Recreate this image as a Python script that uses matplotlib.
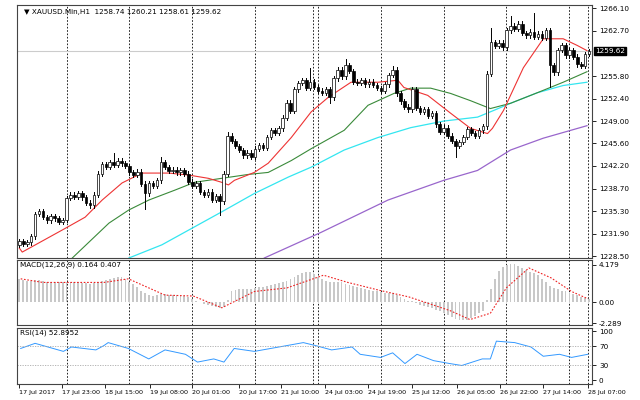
import numpy as np
import matplotlib.pyplot as plt
from matplotlib.patches import Rectangle

# ---------- data ----------
closes = [1230.8, 1230.3, 1230.6, 1231.5, 1234.9, 1235.3, 1234.4, 1233.9, 1234.6, 1234.2, 1233.7, 1234.0,
          1237.3, 1237.8, 1237.5, 1238.0, 1237.4, 1236.6, 1236.2, 1237.8,
          1241.0, 1242.5, 1242.0, 1242.8, 1242.3, 1243.0, 1242.6, 1242.2,
          1241.2, 1240.8, 1241.3, 1239.5, 1238.0, 1239.6, 1239.2, 1240.0,
          1242.8, 1242.0, 1241.4, 1241.6, 1241.2, 1241.5, 1241.0,
          1239.8, 1239.2, 1239.6, 1238.2, 1237.8, 1238.3, 1237.0, 1237.6, 1236.8,
          1241.0, 1246.8, 1246.0, 1245.2, 1244.6, 1243.8, 1244.2, 1243.6,
          1244.8, 1245.3, 1244.9, 1246.6, 1247.6, 1247.2, 1247.9,
          1249.5, 1251.8, 1250.5, 1253.8, 1254.8, 1255.2, 1254.0, 1255.0, 1254.2,
          1253.6, 1253.3, 1253.8, 1252.6,
          1255.5, 1256.8, 1255.8, 1257.5, 1256.6, 1255.0,
          1254.8, 1255.2, 1254.6, 1255.0, 1254.5,
          1254.0, 1253.6, 1254.6, 1256.0, 1256.8,
          1253.2, 1252.0, 1251.2, 1250.8, 1253.8, 1251.0,
          1250.4, 1250.8, 1249.8, 1250.2, 1248.5, 1247.4, 1248.0,
          1246.8, 1246.0, 1245.2, 1245.8,
          1246.6, 1247.8, 1247.2, 1246.8, 1247.6,
          1248.2, 1256.2, 1261.0, 1260.4, 1260.9,
          1260.2, 1262.8, 1263.5, 1263.0, 1263.8,
          1262.4, 1262.0, 1262.6, 1261.8, 1262.3, 1261.6,
          1262.8, 1257.5, 1256.4, 1259.8, 1260.5,
          1259.0, 1259.8, 1258.8, 1257.6, 1257.4, 1259.2, 1259.62]
first_open = 1230.2
wick = 0.35
spike_highs = {24: 1244.1, 36: 1243.6, 53: 1247.3, 74: 1257.1, 83: 1258.5, 95: 1257.4,
               120: 1263.2, 125: 1265.0, 131: 1265.4}
spike_lows = {32: 1235.7, 51: 1234.7, 79: 1251.8, 111: 1243.5, 135: 1254.1}
bar_hours = 1.5  # each drawn candle spans 1.5 chart hours

ma_red_h = [0, 1.1, 17.5, 25.1, 31.6, 39.2, 46.8, 57, 64.6, 72.2, 77.2, 79.8, 82.1, 89.7, 95, 103.8,
            111.4, 117.9, 126.6, 136.9, 144.5, 146.8, 155.9, 164.6, 172.2, 178.7, 180.6, 184.8,
            192.4, 200, 207.6, 212.9, 216.7]
ma_red = [1229.7, 1229.1, 1232.7, 1234.4, 1237.0, 1239.6, 1241.1, 1241.1, 1240.8, 1240.3, 1239.7, 1239.3,
          1240.0, 1241.2, 1242.6, 1246.5, 1250.4, 1252.6, 1254.9, 1254.9, 1255.2, 1254.1, 1252.9, 1250.2,
          1247.9, 1247.1, 1247.9, 1250.6, 1257.1, 1261.5, 1261.5, 1260.5, 1259.7]
ma_green_h = [20.2, 34.2, 41.8, 49.4, 59.3, 66.9, 77.2, 87.5, 95, 103.8, 111.4, 124, 133.1, 143, 149.4,
              157, 164.6, 172.2, 179.8, 187.5, 197.7, 207.6, 216.7]
ma_green = [1228.2, 1233.5, 1235.5, 1237.0, 1238.5, 1239.7, 1240.3, 1240.9, 1241.2, 1243.0, 1244.8,
            1247.6, 1251.4, 1253.2, 1254.0, 1254.0, 1253.2, 1252.1, 1250.9, 1251.7, 1253.3, 1254.9, 1256.5]
ma_cyan_h = [41.8, 54.4, 65.8, 77.2, 89.7, 102.7, 111.4, 124, 136.9, 149.4, 162, 174.9, 181, 187.5,
             197.7, 207.6, 216.7]
ma_cyan = [1228.2, 1230.2, 1232.7, 1235.2, 1238.0, 1240.5, 1242.0, 1244.6, 1246.5, 1248.0, 1249.0,
           1249.6, 1250.6, 1251.7, 1253.3, 1254.4, 1254.9]
ma_purple_h = [93.5, 115.2, 140.7, 162, 174.9, 187.5, 200, 216.7]
ma_purple = [1228.2, 1232.1, 1237.0, 1240.0, 1241.5, 1244.6, 1246.4, 1248.3]

macd_hist = [2.6, 2.5, 2.4, 2.4, 2.5, 2.5, 2.4, 2.3, 2.3, 2.3, 2.2, 2.2,
             2.3, 2.3, 2.3, 2.2, 2.1, 2.1, 2.0, 2.1, 2.3, 2.4, 2.5,
             2.6, 2.7, 2.8, 2.8, 2.6,
             2.3, 2.0, 1.7, 1.3, 1.0,
             0.8, 0.7, 0.8, 0.9, 0.9, 0.8, 0.8, 0.8, 0.7, 0.7, 0.6, 0.4,
             0.2, 0.0, -0.2, -0.3, -0.4, -0.5, -0.6, -0.5, 0.3,
             1.2, 1.4, 1.5, 1.5, 1.5, 1.5, 1.6, 1.7, 1.7, 1.8, 1.9, 2.0, 2.1, 2.2, 2.4,
             2.6, 2.8, 3.0, 3.2, 3.3, 3.3, 3.1,
             2.8, 2.6, 2.4, 2.2, 2.2, 2.2, 2.2, 2.0,
             1.9, 1.8, 1.7, 1.6, 1.5, 1.4, 1.3, 1.2, 1.1,
             1.0, 1.0, 1.0, 0.8, 0.6, 0.4, 0.2,
             0.1, -0.1, -0.3, -0.4, -0.5, -0.6, -0.8, -1.0, -1.2,
             -1.4, -1.6, -1.8, -2.0, -2.0, -1.9,
             -1.7, -1.5, -1.2, -0.9, 0.3, 1.5,
             2.6, 3.5, 3.9, 4.1, 4.2, 4.2, 4.0,
             3.8, 3.6, 3.4, 3.2, 3.0, 2.6, 2.2, 1.8,
             1.6, 1.5, 1.3, 1.2, 1.0, 0.9, 0.8, 0.6, 0.5, 0.4]
signal_h = [0.5, 9, 32.3, 41.6, 55.6, 66.4, 77.3, 89.7, 102.2, 116.1, 125.4, 137.9, 148.7, 164.3,
            172, 179.8, 185.9, 194.5, 203, 210.8, 217]
signal = [2.6, 2.2, 2.2, 2.6, 0.8, 0.7, -0.6, 1.2, 1.6, 3.0, 2.2, 1.3, 0.6, -0.9,
          -1.9, -1.2, 1.6, 3.8, 2.7, 1.2, 0.4]

rsi_h = [0.5, 6, 16.8, 19.9, 29.2, 32.3, 33.9, 41.6, 49.4, 55.6, 63.4, 68, 74.2, 78.1, 82, 89.7, 99.1,
         108.4, 113, 119.2, 127, 130.1, 137.9, 142.5, 147.2, 151.8, 158.1, 164.3, 168.9, 176.7,
         179.8, 182.1, 189.1, 195.3, 200, 206.2, 210.8, 217]
rsi = [65, 75.5, 59, 68, 62, 71, 77, 65, 43.5, 62, 53, 37, 43.5, 37, 65, 59, 68, 77, 71, 62, 68, 53,
       46.6, 56, 34, 53, 40, 34, 30, 43.5, 43.5, 80, 77, 68, 49, 53, 46.6, 53]

time_labels = ['17 Jul 2017', '17 Jul 23:00', '18 Jul 15:00', '19 Jul 08:00', '20 Jul 01:00',
               '20 Jul 17:00', '21 Jul 10:00', '24 Jul 03:00', '24 Jul 19:00', '25 Jul 12:00',
               '26 Jul 05:00', '26 Jul 22:00', '27 Jul 14:00', '28 Jul 07:00']
time_label_h = [0, 16.3, 32.7, 49.8, 66, 83.7, 100, 116.7, 133, 150, 166.9, 183.6, 200, 217]
day_sep_h = [18, 42, 66, 90, 112, 114, 138, 162, 185.6, 210, 217]

price_ticks = [1266.10, 1262.70, 1255.80, 1252.40, 1249.00, 1245.60, 1242.20, 1238.70, 1235.30,
               1231.90, 1228.50]
last_price = 1259.62

# ---------- figure ----------
plt.rcParams['font.family'] = ['DejaVu Sans']
fs = 5.2
fig = plt.figure(figsize=(6.4, 4.0), dpi=100)
ax = fig.add_axes([0.027, 0.355, 0.898, 0.632])
ax_m = fig.add_axes([0.027, 0.1875, 0.898, 0.163])
ax_r = fig.add_axes([0.027, 0.04, 0.898, 0.14])

xmin, xmax = -0.8, 218.6
opens = [first_open] + closes[:-1]
for i, (o, c) in enumerate(zip(opens, closes)):
    h = i * bar_hours
    hi = spike_highs.get(i, max(o, c) + wick)
    lo = spike_lows.get(i, min(o, c) - wick)
    ax.plot([h, h], [lo, hi], color='black', lw=0.7, zorder=3)
    bull = c >= o
    ax.add_patch(Rectangle((h - 0.5, min(o, c)), 1.0, max(abs(c - o), 0.08),
                           facecolor='white' if bull else 'black', edgecolor='black',
                           lw=0.5, zorder=4))

ax.plot(ma_purple_h, ma_purple, color='#9966cc', lw=0.9, zorder=2)
ax.plot(ma_cyan_h, ma_cyan, color='#33e6f0', lw=0.9, zorder=2)
ax.plot(ma_green_h, ma_green, color='#3a8a3a', lw=0.8, zorder=2)
ax.plot(ma_red_h, ma_red, color='#ee3333', lw=0.8, zorder=2)
ax.axhline(last_price, color='#cccccc', lw=0.8, zorder=1)

ax.set_ylim(1228.5 - 0.3, 1266.6)
ax.set_yticks(price_ticks)
ax.set_yticklabels([f'{p:.2f}' for p in price_ticks])
ax.text(1.005, last_price, f'{last_price:.2f}', transform=ax.get_yaxis_transform(),
        fontsize=fs, color='white', va='center', ha='left',
        bbox=dict(boxstyle='square,pad=0.15', fc='black', ec='black'))
ax.text(0.012, 0.985, '▼ XAUUSD.Min,H1  1258.74 1260.21 1258.61 1259.62', transform=ax.transAxes,
        fontsize=fs, va='top', ha='left')

# MACD
ax_m.bar(np.arange(len(macd_hist)) * bar_hours, macd_hist, width=0.7, color='#c8c8c8')
ax_m.plot(signal_h, signal, color='#ee2222', lw=0.8, ls=(0, (1.5, 1.5)))
ax_m.set_ylim(-2.5, 4.7)
ax_m.set_yticks([4.179, 0.0, -2.289])
ax_m.set_yticklabels(['4.179', '0.00', '-2.289'])
ax_m.text(0.005, 0.97, 'MACD(12,26,9) 0.164 0.407', transform=ax_m.transAxes, fontsize=fs,
          va='top', ha='left')

# RSI
ax_r.plot(rsi_h, rsi, color='#3399ff', lw=0.7)
for lvl in (70, 30):
    ax_r.axhline(lvl, color='#aaaaaa', lw=0.6, ls=(0, (1.5, 1.5)))
ax_r.set_ylim(-8, 107)
ax_r.set_yticks([100, 70, 30, 0])
ax_r.set_yticklabels(['100', '70', '30', '0'])
ax_r.text(0.005, 0.97, 'RSI(14) 52.8952', transform=ax_r.transAxes, fontsize=fs,
          va='top', ha='left')

for a in (ax, ax_m, ax_r):
    a.set_xlim(xmin, xmax)
    for d in day_sep_h:
        a.axvline(d, color='black', lw=0.6, ls=(0, (2, 2)), zorder=0)
    a.yaxis.tick_right()
    a.tick_params(axis='y', labelsize=fs, length=3, width=0.6, pad=2)
    a.tick_params(axis='x', length=0)
    a.set_xticks([])
    for s in a.spines.values():
        s.set_linewidth(0.8)
        s.set_color('#444444')

ax_r.set_xticks(time_label_h)
ax_r.set_xticklabels(time_labels, ha='left', fontsize=4.6)
ax_r.tick_params(axis='x', length=3, width=0.6, pad=1.5)

fig.savefig('out.png', dpi=100)
